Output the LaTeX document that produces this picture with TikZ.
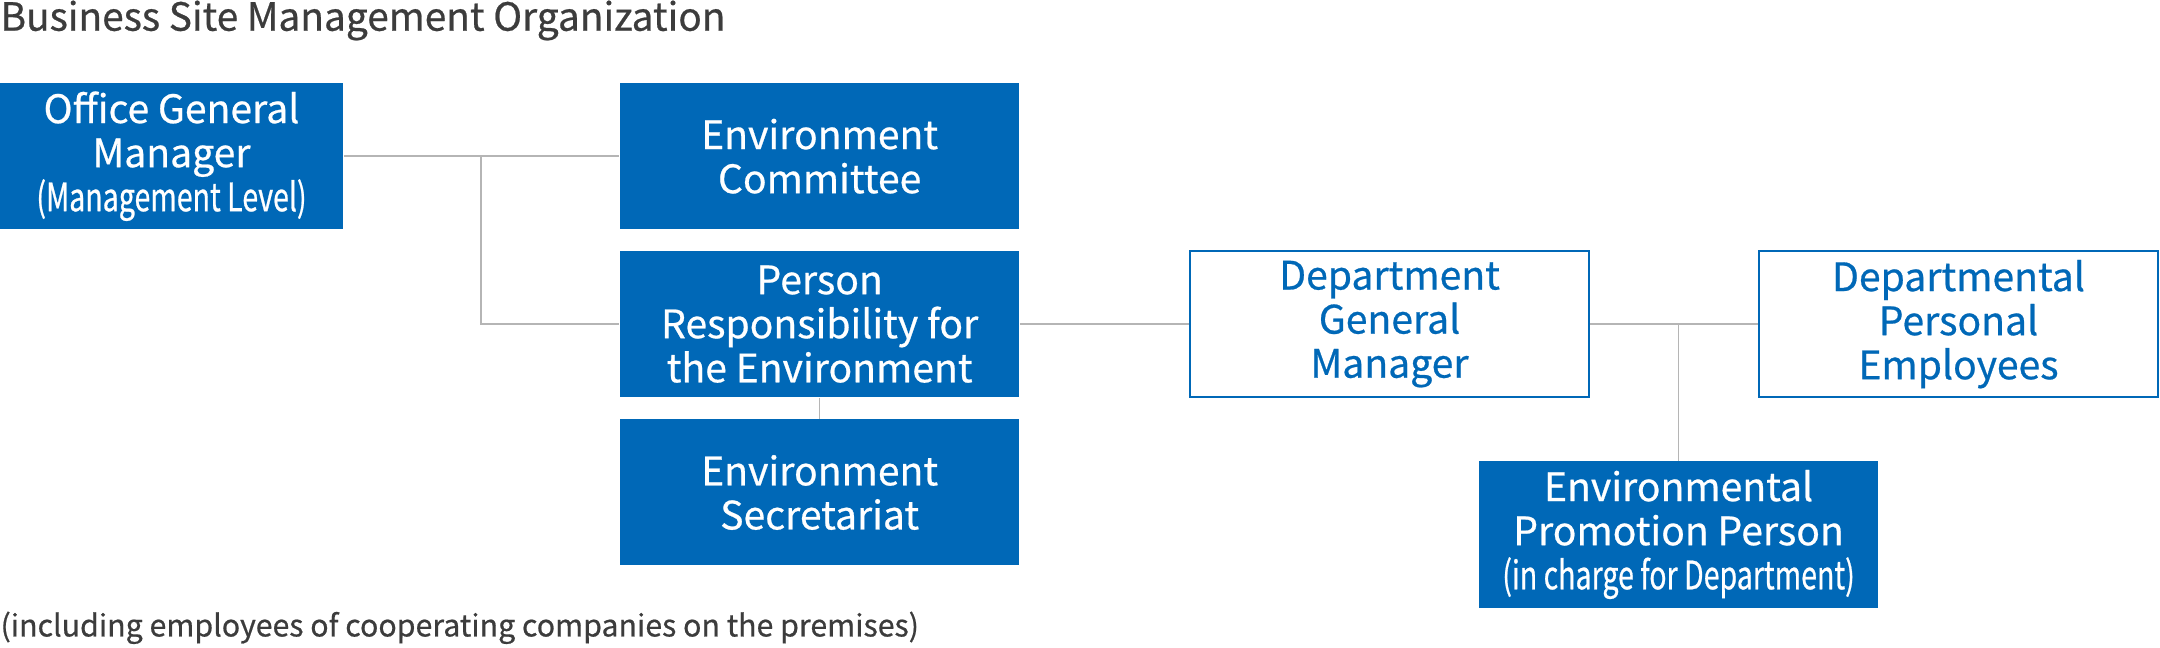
\documentclass[tikz,border=0pt]{standalone}
\usepackage{fontspec}
\setmainfont{Noto Sans CJK JP}[FakeBold=0.6]
\newfontfamily\condfont{Noto Sans CJK JP}[FakeStretch=0.73, FakeBold=0.6]
\usetikzlibrary{positioning}
\definecolor{orgblue}{HTML}{0068B7}
\definecolor{linegray}{HTML}{B5B5B5}
\definecolor{textgray}{HTML}{3C3C3C}

\begin{document}
\begin{tikzpicture}[x=0.5pt, y=-0.5pt,
    fullbox/.style={fill=orgblue, text=white, minimum width=145pt, minimum height=53pt,
        inner sep=0pt, align=center, font=\fontsize{14.2}{16}\selectfont},
    outlinebox/.style={fullbox, fill=white, draw=orgblue, line width=0.8pt, text=orgblue},
    plaintext/.style={anchor=base west, inner sep=0pt, text=textgray},
    link/.style={draw=linegray, line width=0.6pt}]
                \useasboundingbox (0,0) rectangle (1568,470.4);

                % Nodes
                \node at (0,22.3) (title) [plaintext, font=\fontsize{14.1}{16}\selectfont] {Business Site Management Organization};
                \node at (124.5,113.4) (ogm) [fullbox, minimum width=124.5pt] {Office General\\Manager\\{\condfont (Management Level)}};
                \node at (595,113.4) (committee) [fullbox] {Environment\\Committee};
                \node at (595,235.3) (resp) [fullbox] {Person\\Responsibility for\\the Environment};
                \node at (595,357.5) (secretariat) [fullbox] {Environment\\Secretariat};
                \node at (1008.7,235.3) (dgm) [outlinebox] {Department\\General\\Manager};
                \node at (1421.7,235.3) (dpe) [outlinebox] {Departmental\\Personal\\Employees};
                \node at (1218.5,388) (epp) [fullbox] {Environmental\\Promotion Person\\{\condfont (in charge for Department)}};
                \node at (0,462) (note) [plaintext, font=\fontsize{11}{13}\selectfont] {(including employees of cooperating companies on the premises)};
                \coordinate (split) at (349.3,113.4);

                % Lines
                \draw[link] (ogm) -- (committee);
                \draw[link] (split) |- (resp);
                \draw[link] (resp) -- (secretariat);
                \draw[link] (resp) -- (dgm);
                \draw[link] (dgm) -- (dpe);
                \draw[link] (epp.north) -- (epp.north |- dgm.east);
            \end{tikzpicture}
\end{document}
